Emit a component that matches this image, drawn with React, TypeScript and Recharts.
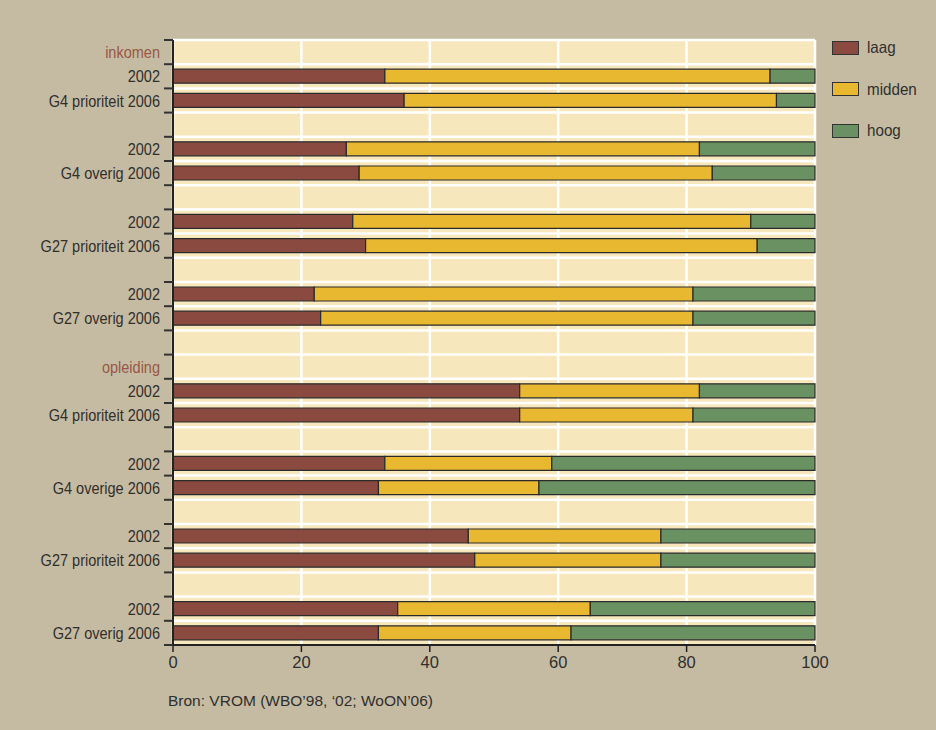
import React from 'react'
import {
  BarChart,
  Bar,
  XAxis,
  YAxis,
  CartesianGrid
} from 'recharts'

const rowLabels = [
  'inkomen', '2002', 'G4 prioriteit 2006', '',
  '2002', 'G4 overig 2006', '',
  '2002', 'G27 prioriteit 2006', '',
  '2002', 'G27 overig 2006', '',
  'opleiding', '2002', 'G4 prioriteit 2006', '',
  '2002', 'G4 overige 2006', '',
  '2002', 'G27 prioriteit 2006', '',
  '2002', 'G27 overig 2006'
]
const headerLabels = ['inkomen', 'opleiding']

const laag = [null, 33, 36, null, 27, 29, null, 28, 30, null, 22, 23, null, null, 54, 54, null, 33, 32, null, 46, 47, null, 35, 32]
const midden = [null, 60, 58, null, 55, 55, null, 62, 61, null, 59, 58, null, null, 28, 27, null, 26, 25, null, 30, 29, null, 30, 30]
const hoog = [null, 7, 6, null, 18, 16, null, 10, 9, null, 19, 19, null, null, 18, 19, null, 41, 43, null, 24, 24, null, 35, 38]

const xTicks = [0, 20, 40, 60, 80, 100]

const SERIES = [
  { key: 'laag', name: 'laag', color: '#8b4a40' },
  { key: 'midden', name: 'midden', color: '#e8b830' },
  { key: 'hoog', name: 'hoog', color: '#6a9161' }
]

const data = rowLabels.map((label, i) => ({
  label,
  laag: laag[i],
  midden: midden[i],
  hoog: hoog[i]
}))

const W = 936
const H = 730
const X_AXIS_H = 30
const MARGIN = { top: 40, right: 121, bottom: 85 - X_AXIS_H, left: 0 }
const BAND = (H - 40 - 85) / rowLabels.length
const FONT = '"Liberation Sans", Arial, sans-serif'
const TEXT = '#2f2f2f'

const CategoryTick = (props: any) => {
  const { x, y, payload, index } = props
  const isHeader = headerLabels.includes(payload.value)
  const last = index === rowLabels.length - 1
  return (
    <g>
      <line x1={x - 1} x2={x + 8} y1={y - BAND / 2} y2={y - BAND / 2} stroke="#333" strokeWidth={2} />
      {last && (
        <line x1={x - 1} x2={x + 8} y1={y + BAND / 2} y2={y + BAND / 2} stroke="#333" strokeWidth={2} />
      )}
      <text
        transform={`translate(${x - 5},${y + 6}) scale(0.88,1)`}
        textAnchor="end"
        fontSize={16.5}
        fontFamily={FONT}
        fill={isHeader ? '#9b5648' : TEXT}
      >
        {payload.value}
      </text>
    </g>
  )
}

export default function App() {
  return (
    <div style={{ position: 'absolute', left: 0, top: 0, width: W, height: H, background: '#c5bba2' }}>
      <BarChart width={W} height={H} data={data} layout="vertical" margin={MARGIN} barSize={14}>
        <CartesianGrid
          fill="#f6e7bd"
          fillOpacity={1}
          stroke="#ffffff"
          strokeWidth={2.5}
          horizontalCoordinatesGenerator={({ offset }: any) =>
            rowLabels.map((_, i) => offset.top + i * (offset.height / rowLabels.length))
          }
        />
        <XAxis
          type="number"
          domain={[0, 100]}
          ticks={xTicks}
          height={X_AXIS_H}
          axisLine={{ stroke: '#222', strokeWidth: 2 }}
          tickLine={{ stroke: '#222', strokeWidth: 1.5 }}
          tickSize={7}
          tickMargin={4}
          tick={{ fill: TEXT, fontSize: 16.5, fontFamily: FONT }}
        />
        <YAxis
          type="category"
          dataKey="label"
          width={173}
          axisLine={{ stroke: '#222', strokeWidth: 2 }}
          tickLine={false}
          tick={<CategoryTick />}
          interval={0}
        />
        {SERIES.map((s) => (
          <Bar
            key={s.key}
            dataKey={s.key}
            name={s.name}
            stackId="a"
            fill={s.color}
            stroke="#2a2a2a"
            strokeWidth={1.2}
            isAnimationActive={false}
          />
        ))}
      </BarChart>
      {SERIES.map((s, i) => (
        <div
          key={s.key}
          style={{
            position: 'absolute',
            left: 832,
            top: 40 + i * 41.5,
            display: 'flex',
            alignItems: 'center',
            height: 15
          }}
        >
          <div
            style={{
              width: 25,
              height: 12,
              background: s.color,
              border: '1.5px solid #333',
              marginRight: 8
            }}
          />
          <span style={{ fontFamily: FONT, fontSize: 16.5, color: TEXT, display: 'inline-block', transform: 'scaleX(0.92)', transformOrigin: 'left center' }}>
            {s.name}
          </span>
        </div>
      ))}
      <div
        style={{
          position: 'absolute',
          left: 168,
          top: 692,
          fontFamily: FONT,
          fontSize: 15.5,
          color: TEXT
        }}
      >
        Bron: VROM (WBO’98, ‘02; WoON’06)
      </div>
    </div>
  )
}
